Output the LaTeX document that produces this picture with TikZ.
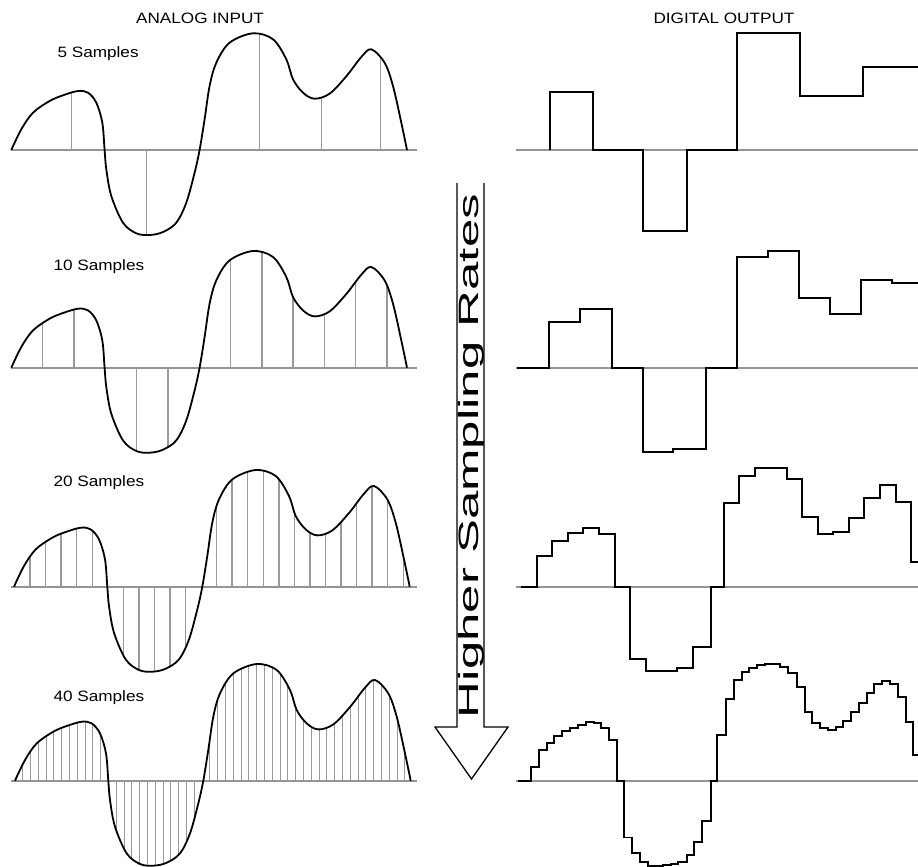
\documentclass[tikz,border=0pt]{standalone}
\usepackage{fontspec}
\setmainfont{Liberation Sans}
\newcommand\hstretch[1]{\scalebox{1.145}[1]{#1}}
\tikzset{
  axisline/.style={draw=black!42, line width=1.8pt},
  sampleline/.style={draw=black!40, line width=1.4pt},
  waveline/.style={draw=black, line width=1.8pt, line join=round},
  digiline/.style={draw=black, line width=1.7pt, line join=miter},
  lbl/.style={font=\fontsize{15}{15}\selectfont, inner sep=0pt},
  arrowline/.style={draw=black, line width=1.3pt, line join=miter},
  wave/.style={insert path={plot[smooth,tension=0.55] coordinates{
    (15,0) (25,20.7) (36.7,37.3) (53.3,49) (66.7,54.7) (81.7,59) (91.7,57.3)
    (100,47.3) (106,27.3) (108.3,0) (110,-19.3) (115,-46) (126.7,-72.7)
    (140,-83.3) (153.3,-85) (166.7,-82) (180,-72.7) (190,-52.7) (198.3,-22.7)
    (203.3,0) (208.3,30.7) (213.3,64) (220,87.3) (233.3,107.3) (256.7,116.7)
    (276.7,110.7) (290,90.7) (296.7,70.7) (306.7,57.3) (318.3,51.3)
    (333.3,56.3) (350,73.7) (365,93) (375,100.7) (388.3,87.3) (396.7,64)
    (405,27.3) (410.7,0)}}}
}
\begin{document}
\begin{tikzpicture}[x=1pt,y=-1pt]
\useasboundingbox (0,0) rectangle (918,867);

% ---------- titles ----------
\node[lbl, anchor=base] (analog) at (200,24) {\hstretch{ANALOG INPUT}};
\node[lbl, anchor=base] (digital) at (724,24) {\hstretch{DIGITAL OUTPUT}};
\node[lbl, anchor=base west] (s5) at (57.3,57.3) {\hstretch{5 Samples}};
\node[lbl, anchor=base west] (s10) at (53.3,270.7) {\hstretch{10 Samples}};
\node[lbl, anchor=base west] (s20) at (53.3,486.7) {\hstretch{20 Samples}};
\node[lbl, anchor=base west] (s40) at (53.3,701.7) {\hstretch{40 Samples}};

% ---------- axes ----------
\foreach \ay in {150,367.7,586.7,780.7}{
  \draw[axisline] (11,\ay) -- (417,\ay);
  \draw[axisline] (516,\ay) -- (918,\ay);
}

% ---------- panel 1 : 5 samples ----------
\def\sh{-3.7}
\begin{scope}[shift={(\sh,150)}, yscale=-1]
  \begin{scope}
    \clip (15,0) [wave] -- cycle;
    \foreach \x in {71.7,146.7,259.3,321.7,380.7}
      \draw[sampleline] ({\x-\sh},-120) -- ({\x-\sh},130);
  \end{scope}
  \path[waveline] (15,0) [wave];
\end{scope}

% ---------- panel 2 : 10 samples ----------
\begin{scope}[shift={(\sh,367.7)}, yscale=-1]
  \begin{scope}
    \clip (15,0) [wave] -- cycle;
    \foreach \k in {0,1,3,4,6,7,8,9,10,11}
      \draw[sampleline] ({42.7+31.3*\k-\sh},-120) -- ({42.7+31.3*\k-\sh},130);
  \end{scope}
  \path[waveline] (15,0) [wave];
\end{scope}

% ---------- panel 3 : 20 samples ----------
\def\sh{-1}
\begin{scope}[shift={(\sh,586.7)}, yscale=-1]
  \begin{scope}
    \clip (15,0) [wave] -- cycle;
    \foreach \k in {0,...,24}{
      \ifnum\k=5 \else\ifnum\k=11 \else
      \draw[sampleline] ({30+15.55*\k-\sh},-120) -- ({30+15.55*\k-\sh},130);
      \fi\fi}
  \end{scope}
  \path[waveline] (15,0) [wave];
\end{scope}

% ---------- panel 4 : 40 samples ----------
\def\sh{0}
\begin{scope}[shift={(\sh,780.7)}, yscale=-1]
  \begin{scope}
    \clip (15,0) [wave] -- cycle;
    \foreach \k in {0,...,49}{
      \ifnum\k=11 \else\ifnum\k=23 \else
      \draw[sampleline, line width=1.1pt] ({22.7+7.8*\k-\sh},-120) -- ({22.7+7.8*\k-\sh},130);
      \fi\fi}
  \end{scope}
  \path[waveline] (15,0) [wave];
\end{scope}

% ---------- digital outputs ----------
\draw[digiline] (550,150) |- (592.7,91.7) |- (643.3,150) |- (687.3,230.7)
  |- (737.3,150) |- (800,33.3) |- (862.7,96) |- (918,66.7);

\draw[digiline] (517.3,367.7) -- (549,367.7) |- (580,321.7) |- (611.7,309)
  |- (642.7,367.7) |- (673.3,452.3) |- (705.7,448.7) |- (736.7,367.7)
  |- (767.7,257.3) |- (799,250.7) |- (830,298.3) |- (861,313.7)
  |- (892.3,280) |- (918,283.3);

\draw[digiline] (521,586.7) -- (536.7,586.7) |- (552.3,555.7) |- (568.3,540.7)
  |- (583.3,533) |- (599.3,527.7) |- (615,533.7) |- (630,586.7)
  |- (646,659.3) |- (676.7,670.7) |- (693.3,667.7) |- (710.7,647.3)
  |- (724,586.7) |- (739.3,503.3) |- (755.3,476) |- (786.7,468)
  |- (802.3,478.7) |- (818.3,516.7) |- (833.3,533.7) |- (849,531.7)
  |- (864.3,517.7) |- (880,498.3) |- (895.7,485) |- (911,502.3)
  |- (918,561.7);

\draw[digiline] (518.3,780.7) -- (531,780.7) |- (539,766.7) |- (546.7,750)
  |- (554.3,742.7) |- (562.3,736) |- (570,731) |- (578.3,728.3)
  |- (586,725) |- (594,722.3) |- (601,723.3) |- (609,728.3)
  |- (616.7,740) |- (624,780.7) |- (632.3,837.5) |- (640,853.3)
  |- (647.7,861.7) |- (663.3,866) |- (670.8,865.3) |- (678.3,864.3)
  |- (686.7,862.3) |- (694.3,855) |- (702.3,841.7) |- (710.7,821.3)
  |- (717.3,780.7) |- (726,735) |- (734,699) |- (741.7,680)
  |- (749.3,671.7) |- (757.3,667.7) |- (765,665) |- (780,664)
  |- (788.3,666.7) |- (796.7,673.3) |- (805,686.7) |- (812.3,711.7)
  |- (820,722.7) |- (827.7,728.3) |- (835.7,730) |- (843.3,727.3)
  |- (851,720.7) |- (859,712.3) |- (866.7,702.7) |- (874.3,693.3)
  |- (881.7,684.3) |- (890,681) |- (897.7,684.3) |- (905.7,696.7)
  |- (913.3,721.7) |- (918,755);

% ---------- arrow ----------
\draw[arrowline] (457,183) -- (457,727) -- (435,727) -- (471.5,779)
  -- (508,727) -- (484,727) -- (484,183);
\node[rotate=90, font=\fontsize{28}{28}\selectfont, inner sep=0pt] (rates)
  at (471,456) {\scalebox{1.82}[1]{Higher Sampling Rates}};
\end{tikzpicture}
\end{document}
